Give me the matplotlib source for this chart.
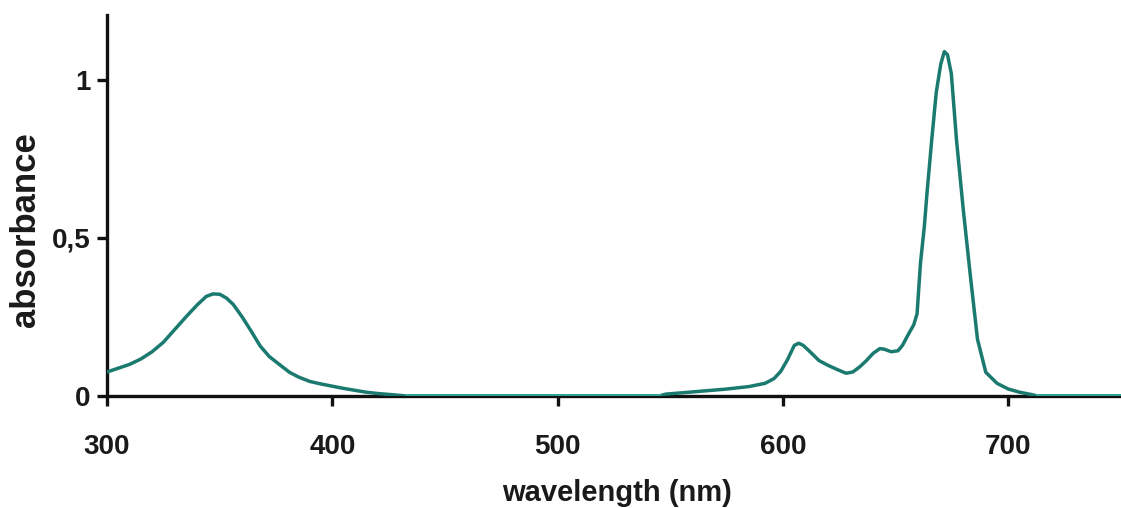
import numpy as np
import matplotlib
matplotlib.use("Agg")
import matplotlib.pyplot as plt

wavelength = [300, 305, 310, 315, 320, 325, 330, 335, 340, 344, 347, 350, 353, 356, 360,
              364, 368, 372, 377, 381, 385, 390, 395, 400, 405, 410, 415, 420, 425, 430,
              433, 480, 545,
              548, 555, 565, 575, 585, 592, 596, 599, 602, 605, 607, 609, 612, 616, 620,
              624, 628, 631, 634, 637, 640, 643, 645, 648, 651, 653, 656, 658, 659.5, 661,
              662.7, 664, 666, 668, 670, 671.6, 673, 674.7, 677, 680, 683, 686.3, 690, 695,
              700, 705, 710, 713, 750]
absorbance = [0.076, 0.088, 0.100, 0.117, 0.140, 0.170, 0.210, 0.250, 0.288, 0.315, 0.323,
              0.322, 0.310, 0.290, 0.250, 0.205, 0.158, 0.125, 0.097, 0.075, 0.060, 0.046,
              0.038, 0.031, 0.024, 0.018, 0.012, 0.008, 0.005, 0.002,
              0.0, 0.0, 0.0,
              0.006, 0.010, 0.016, 0.022, 0.030, 0.040, 0.055, 0.078, 0.115, 0.160, 0.167,
              0.160, 0.140, 0.112, 0.097, 0.084, 0.072, 0.076, 0.092, 0.112, 0.135, 0.150,
              0.148, 0.140, 0.143, 0.160, 0.200, 0.225, 0.26, 0.42, 0.535, 0.65, 0.81, 0.96,
              1.05, 1.09, 1.08, 1.02, 0.81, 0.59, 0.39, 0.18, 0.075, 0.04, 0.022, 0.012,
              0.005, 0.0, 0.0]
x_ticks = [300, 400, 500, 600, 700]
y_ticks = [0, 0.5, 1]
y_tick_labels = ["0", "0,5", "1"]

wl = np.array(wavelength, dtype=float)
ab = np.array(absorbance, dtype=float)

plt.rcParams['font.family'] = ['Liberation Sans', 'DejaVu Sans']

fig = plt.figure(figsize=(11.21, 5.08), dpi=100)
ax = fig.add_axes([107 / 1121, 112 / 508, 1 - 107 / 1121, (396 - 15) / 508])

dark = '#1b7a6f'
light = '#2fa396'
ax.plot(wl, ab, color=dark, lw=2.5, zorder=3, solid_joinstyle='round')
# zero baseline sections drawn on top of the axis
zero = np.ma.masked_where(ab > 0, ab)
ax.plot(wl, zero, color=light, lw=2.8, zorder=4)

ax.set_xlim(300, 750)
ax.set_ylim(0, 381 / 316)
for s in ['top', 'right']:
    ax.spines[s].set_visible(False)
for s in ['left', 'bottom']:
    ax.spines[s].set_linewidth(2.4)
    ax.spines[s].set_color('#111111')
ax.spines['bottom'].set_zorder(2)

ax.set_xticks(x_ticks)
ax.set_xticklabels([str(v) for v in x_ticks])
ax.set_yticks(y_ticks)
ax.set_yticklabels(y_tick_labels)
ax.tick_params(axis='both', direction='out', length=7, width=2.4, color='#111111',
               labelsize=20, labelcolor='#1a1a1a')
ax.tick_params(axis='x', pad=20)
ax.tick_params(axis='y', pad=5)
for lab in ax.get_xticklabels() + ax.get_yticklabels():
    lab.set_fontweight('bold')

ax.set_xlabel('wavelength (nm)', fontsize=21, fontweight='bold', color='#1a1a1a')
ax.xaxis.set_label_coords((617 - 107) / (1121 - 107), -(493 - 396) / 381)
ax.xaxis.label.set_verticalalignment('center')
ax.set_ylabel('absorbance', fontsize=25, fontweight='bold', color='#1a1a1a')
ax.yaxis.set_label_coords(-(107 - 26) / (1121 - 107), (396 - 230) / 381)
ax.yaxis.label.set_verticalalignment('center')

fig.savefig('out.png', dpi=100)
